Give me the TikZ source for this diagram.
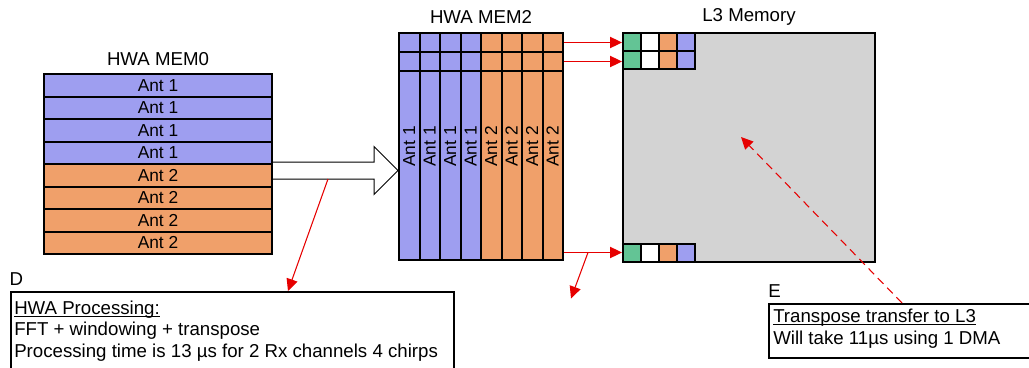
\documentclass[tikz,border=0pt]{standalone}
\usepackage{fontspec}
\usepackage{graphicx}
\setmainfont{Liberation Sans}
\usetikzlibrary{arrows.meta,calc,positioning}

\definecolor{antblue}{HTML}{9E9EF0}
\definecolor{antorange}{HTML}{F0A06A}
\definecolor{dmagreen}{HTML}{63C495}
\definecolor{l3gray}{HTML}{D3D3D3}
\definecolor{linkred}{HTML}{E60000}

\newcommand{\ulabel}[1]{\underline{\raisebox{0pt}[\height][0pt]{#1}}}

\tikzset{
  cell/.style={draw, line width=1.5pt, inner sep=0pt},
  rowbox/.style={cell, minimum width=171pt, minimum height=16.875pt,
    font=\fontsize{13}{15}\selectfont},
  colbox/.style={cell, minimum width=15.375pt, minimum height=170.25pt,
    font=\fontsize{13}{15}\selectfont},
  topcell/.style={cell, minimum width=15.375pt, minimum height=14.25pt},
  dmacell/.style={cell, minimum size=13.5pt},
  lbl/.style={inner sep=0pt, font=\fontsize{14}{16.2}\selectfont},
  notebox/.style={draw, line width=1.5pt, inner sep=0pt},
  redarrow/.style={draw=linkred, line width=0.8pt,
    -{Triangle[length=9pt,width=8.5pt]}}
}

\begin{document}
\begin{tikzpicture}[x=0.75pt,y=-0.75pt]
  \useasboundingbox (0,0) rectangle (1029,368);

  % HWA MEM0: one row per chirp
  \foreach \i/\fc/\txt in {1/antblue/Ant 1,2/antblue/Ant 1,3/antblue/Ant 1,4/antblue/Ant 1,
                           5/antorange/Ant 2,6/antorange/Ant 2,7/antorange/Ant 2,8/antorange/Ant 2}
    \node[rowbox, fill=\fc] (w\i) at (158,{62.75+22.5*\i}) {\txt};
  \node[lbl, anchor=base] (m0lbl) at ([yshift=6pt]w1.north) {HWA MEM0};

  % HWA MEM2: transposed columns
  \foreach \j/\fc/\txt in {1/antblue/Ant 1,2/antblue/Ant 1,3/antblue/Ant 1,4/antblue/Ant 1,
                           5/antorange/Ant 2,6/antorange/Ant 2,7/antorange/Ant 2,8/antorange/Ant 2}
  {
    \node[colbox, fill=\fc] (c\j) at ({388.75+20.5*\j},146.5) {\rotatebox{90}{\txt}};
    \node[topcell, fill=\fc] (t\j) at ({388.75+20.5*\j},42.5) {};
    \node[topcell, fill=\fc] (u\j) at ({388.75+20.5*\j},61.5) {};
  }
  \node[lbl, anchor=base] (m2lbl) at ([yshift=6.2pt]c1.north -| 481,0) {HWA MEM2};

  % L3 memory with the DMA'd blocks
  \node[cell, fill=l3gray, minimum width=189pt, minimum height=171.75pt] (l3) at (749,147.5) {};
  \node[lbl, anchor=base] (l3lbl) at ([yshift=8pt]l3.north) {L3 Memory};
  \foreach \k/\fc in {1/dmagreen,2/white,3/antorange,4/antblue}
  {
    \node[dmacell, fill=\fc] (a\k) at ({614+18*\k},42) {};
    \node[dmacell, fill=\fc] (b\k) at ({614+18*\k},60) {};
    \node[dmacell, fill=\fc] (z\k) at ({614+18*\k},252.5) {};
  }

  % transfers MEM2 -> L3
  \draw[redarrow] (t8.east) -- (t8.east -| a1.west);
  \draw[redarrow] (u8.east) -- (u8.east -| b1.west);
  \draw[redarrow] (z1.west -| c8.east) -- (z1.west);
  \coordinate (br) at ($(z1.west -| c8.east)+(24,0)$);
  \draw[redarrow] (br) -- ++(-17,46);

  % hollow arrow MEM0 -> MEM2
  \coordinate (tail) at (w5.east |- 0,170.5);
  \coordinate (tip) at (c1.west |- tail);
  \draw[line width=0.75pt, fill=white]
    ($(tail)+(0,-8.5)$) -- ($(tip)+(-24,-8.5)$) -- ($(tip)+(-24,-24)$) -- (tip)
    -- ($(tip)+(-24,24)$) -- ($(tip)+(-24,8.5)$) -- ($(tail)+(0,8.5)$);

  % note D
  \node[notebox, anchor=north west, minimum width=332.25pt, minimum height=57.75pt] (dbox) at (10,291) {};
  \node[lbl, anchor=base west] (dlbl) at ([shift={(-0.5pt,4.5pt)}]dbox.north west) {D};
  \node[lbl, anchor=north west, align=left] (dtxt) at ([shift={(3pt,-7pt)}]dbox.north west)
    {\ulabel{HWA Processing:}\\
     FFT + windowing + transpose\\
     Processing time is 13 µs for 2 Rx channels 4 chirps};
  \coordinate (pa) at ($(tail)+(55,8.5)$);
  \draw[redarrow] (pa) -- ([xshift=208.5pt]dbox.north west);

  % note E
  \node[notebox, anchor=north west, minimum width=197.25pt, minimum height=40.5pt] (ebox) at (768,303) {};
  \node[lbl, anchor=base west] (elbl) at ([shift={(0pt,4.5pt)}]ebox.north west) {E};
  \node[lbl, anchor=north west, align=left] (etxt) at ([shift={(3.75pt,-4.5pt)}]ebox.north west)
    {\ulabel{Transpose transfer to L3}\\
     Will take 11µs using 1 DMA};
  \coordinate (l3pt) at (741,137);
  \draw[redarrow, dash pattern=on 6pt off 4pt] ([xshift=100.5pt]ebox.north west) -- (l3pt);
\end{tikzpicture}
\end{document}
